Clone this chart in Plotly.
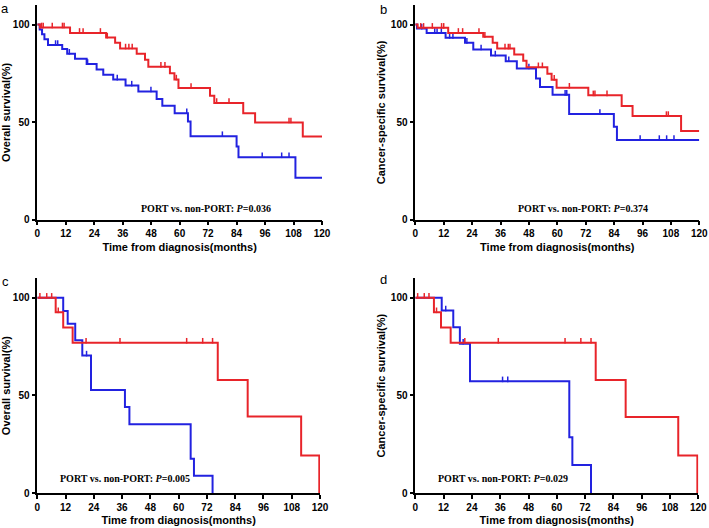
import numpy as np
import plotly.graph_objects as go

# ---------------- data ----------------
x_ticks = [0, 12, 24, 36, 48, 60, 72, 84, 96, 108, 120]
y_ticks = [0, 50, 100]

# Panel a: Overall survival
a_port_t = [0, 1.1, 13.8, 29, 32.8, 34.9, 41.9, 45.4, 46.8, 55.9, 57.8, 59.5, 72.8, 74.6, 86.8, 91.8, 111.9, 120]
a_port_s = [100, 98.5, 95.7, 93.3, 90.6, 87.7, 85, 82, 78.3, 75, 71.8, 67.5, 63.5, 59.8, 54.6, 49.8, 42.6, 42.6]
a_port_c = [1.8, 2.5, 6.3, 10.6, 11.3, 17.8, 19.3, 26.6, 29.5, 37.2, 38.6, 40, 52.1, 53.8, 58.6, 64.8, 75.6, 80.8, 106.1, 106.9]
a_non_t = [0, 1, 2, 3, 4.5, 10.5, 12.6, 15.9, 20.8, 25, 27.8, 32, 37.2, 42.6, 50.3, 52.7, 57.9, 63.5, 64.6, 84, 84.8, 108.8, 120]
a_non_s = [100, 97.5, 95, 92.5, 89.5, 87.5, 85, 82.4, 79.8, 76.9, 74.3, 71.8, 68.7, 65.7, 61.8, 58.4, 54.6, 50.3, 42.8, 37.5, 32, 21.5, 21.5]
a_non_c = [7.7, 8.6, 13.5, 21.2, 33.7, 39.8, 47.9, 63, 78, 94.8, 103, 106.1]

# Panel b: Cancer-specific survival
b_port_t = [0, 1, 13.9, 28.7, 32.7, 34.6, 41.8, 45.6, 47, 55.8, 57.6, 59.7, 73.1, 87.2, 91.8, 112.3, 120]
b_port_s = [100, 98.3, 95.7, 93.7, 90.6, 87.7, 84.6, 81.5, 78.1, 74.8, 71.7, 67.6, 63.7, 58.2, 53.1, 45.4, 45.4]
b_port_c = [2.3, 3.5, 7.2, 11.1, 12, 18.2, 20, 26.9, 29.4, 37.9, 39.3, 40, 52, 53.7, 58.7, 65.1, 75.2, 75.9, 81, 106.1, 106.9]
b_non_t = [0, 0.7, 4.8, 12.8, 21, 24.5, 32, 38.2, 42.9, 51, 52.7, 58, 65, 83.9, 85.2, 120]
b_non_s = [100, 97.9, 95.7, 93.2, 90.6, 87.2, 84.1, 81.2, 77.5, 72.3, 68, 64, 54.2, 47.6, 40.8, 40.8]
b_non_c = [2.7, 8.2, 9.2, 11, 14.5, 15.9, 21.8, 27.8, 33.8, 39.5, 48, 63.3, 64, 78, 95, 103.1, 106.2, 109.3]

# Panel c: Overall survival (subgroup)
c_port_t = [0, 7.8, 11, 15, 76.6, 89.3, 112, 119.7]
c_port_s = [100, 92.6, 84.8, 77, 57.9, 39.2, 19.2, 0]
c_port_c = [1.1, 4, 6.1, 8.9, 20.7, 35.1, 63.4, 70.2, 74.4]
c_non_t = [0, 11, 12.9, 16.1, 19.1, 22.8, 37.2, 39.1, 65.1, 66.5, 74.4]
c_non_s = [100, 93.3, 86.7, 78.3, 70.4, 52.8, 44, 35.2, 17.6, 8.8, 0]
c_non_c = [20.9]

# Panel d: Cancer-specific survival (subgroup)
d_port_t = [0, 7.9, 10.9, 15, 76.5, 89.2, 111.5, 119.6]
d_port_s = [100, 92.6, 84.8, 77, 57.9, 38.9, 19.2, 0]
d_port_c = [1, 3.8, 5.8, 9, 21, 35.2, 63.5, 70.2, 74.5]
d_non_t = [0, 11.2, 16.1, 18.9, 23.2, 65.3, 66.6, 74.5]
d_non_s = [100, 93.5, 84.9, 76.5, 57.2, 28.6, 14.3, 0]
d_non_c = [12.9, 20.3, 37, 39.2]

panel_letters = ["a", "b", "c", "d"]
y_titles = ["Overall survival(%)", "Cancer-specific survival(%)",
            "Overall survival(%)", "Cancer-specific survival(%)"]
p_values = ["0.036", "0.374", "0.005", "0.029"]
x_title = "Time from diagnosis(months)"

# ---------------- styling / layout ----------------
RED = "#e8242a"
BLUE = "#2222e0"
SANS = "Arial, Liberation Sans, sans-serif"
SERIF = "Times New Roman, Liberation Serif, serif"

W, H = 709, 528
# pixel boxes (left, right, top, bottom) of each plotting area
boxes = [(37.3, 322.0, 5.0, 219.7), (415.3, 699.3, 5.0, 219.7),
         (37.3, 320.0, 278.3, 493.0), (415.3, 698.3, 278.3, 493.0)]
letter_pos = [(4.5, 8.5), (383, 9), (5, 281), (383, 279)]
ptext_pos = [(71.2, 5.9), (71.0, 5.9), (37.4, 7.5), (37.3, 7.5)]

panels = [
    ((a_port_t, a_port_s, a_port_c), (a_non_t, a_non_s, a_non_c)),
    ((b_port_t, b_port_s, b_port_c), (b_non_t, b_non_s, b_non_c)),
    ((c_port_t, c_port_s, c_port_c), (c_non_t, c_non_s, c_non_c)),
    ((d_port_t, d_port_s, d_port_c), (d_non_t, d_non_s, d_non_c)),
]


def step_at(times, surv, t):
    idx = np.searchsorted(np.asarray(times), np.asarray(t), side="right") - 1
    return np.asarray(surv)[idx]


fig = go.Figure()
layout = dict(
    width=W, height=H, margin=dict(l=0, r=0, t=0, b=0),
    paper_bgcolor="white", plot_bgcolor="white", showlegend=False,
    annotations=[],
)

for i, (port, non) in enumerate(panels):
    n = "" if i == 0 else str(i + 1)
    xa, ya = "x" + n, "y" + n
    # non-PORT (blue) drawn first, PORT (red) on top
    for (t, s, c), col in ((non, BLUE), (port, RED)):
        fig.add_trace(go.Scatter(x=t, y=s, mode="lines", line=dict(color=col, width=2, shape="hv"),
                                 xaxis=xa, yaxis=ya, hoverinfo="skip"))
        cy = step_at(t, s, c)
        fig.add_trace(go.Scatter(x=c, y=cy + 1.0, mode="markers",
                                 marker=dict(symbol="line-ns", size=4, line=dict(color=col, width=1.5)),
                                 xaxis=xa, yaxis=ya, hoverinfo="skip", cliponaxis=False))
    l, r, tp, bt = boxes[i]
    axis_common = dict(showline=True, linecolor="black", linewidth=1.5, ticks="outside",
                       ticklen=4, tickwidth=1.5, tickcolor="black", showgrid=False,
                       zeroline=False, automargin=False,
                       tickfont=dict(family=SANS, size=10, color="black", weight="bold"))
    layout["xaxis" + n] = dict(axis_common, domain=[l / W, r / W], range=[0, 120],
                               tickvals=x_ticks, anchor=ya,
                               title=dict(text=x_title, standoff=5,
                                          font=dict(family=SANS, size=11, color="black", weight="bold")))
    layout["yaxis" + n] = dict(axis_common, domain=[1 - bt / H, 1 - tp / H], range=[0, 110],
                               tickvals=y_ticks, anchor=xa,
                               title=dict(text=y_titles[i], standoff=3,
                                          font=dict(family=SANS, size=11, color="black", weight="bold")))
    lx, ly = letter_pos[i]
    layout["annotations"].append(dict(text=panel_letters[i], xref="paper", yref="paper",
                                      x=lx / W, y=1 - ly / H, xanchor="center", yanchor="middle",
                                      showarrow=False, font=dict(family=SANS, size=13, color="black")))
    px_, py_ = ptext_pos[i]
    layout["annotations"].append(dict(text="PORT vs. non-PORT: <i>P</i>=" + p_values[i],
                                      xref=xa, yref=ya, x=px_, y=py_, xanchor="center", yanchor="middle",
                                      showarrow=False,
                                      font=dict(family=SERIF, size=10, color="black", weight="bold")))

fig.update_layout(**layout)
fig.write_html("out.html", config={"displayModeBar": False},
               post_script="document.body.style.margin='0';document.body.style.overflow='hidden';")
